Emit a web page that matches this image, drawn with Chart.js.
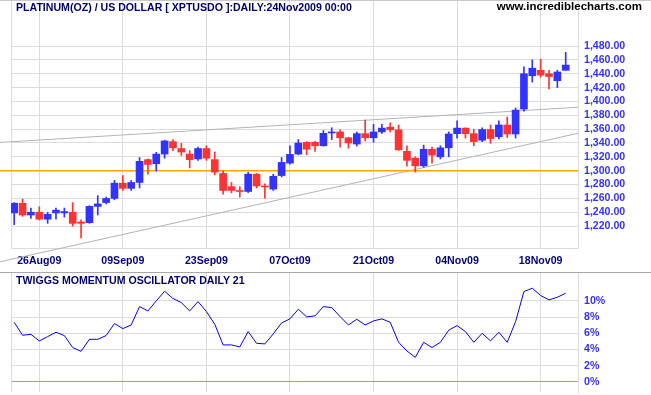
<!DOCTYPE html>
<html>
<head>
<meta charset="utf-8">
<script src="https://cdn.jsdelivr.net/npm/chart.js@4.4.1/dist/chart.umd.min.js"></script>
<style>
  body { margin: 0; background: #fff; }
  #wrap { position: relative; width: 651px; height: 395px; overflow: hidden; background: #fff; }
  canvas { position: absolute; left: 0; }
  .txt { position: absolute; font-family: 'Liberation Sans', Arial, sans-serif; font-weight: bold; line-height: 13px; white-space: nowrap; }
  .sep { position: absolute; left: 0; width: 651px; height: 1px; }
</style>
</head>
<body>
<div id="wrap">
  <canvas id="priceChart" width="651" height="270" style="top:0"></canvas>
  <canvas id="oscChart" width="651" height="123" style="top:272px"></canvas>
  <div class="sep" style="top:0;background:#c8c8c8"></div>
  <div class="sep" style="top:272px;background:#a8a8a8"></div>
  <div class="txt" style="left:16px;top:1px;font-size:10.6px;color:#000070">PLATINUM(OZ) / US DOLLAR [ XPTUSDO ]:DAILY:24Nov2009 00:00</div>
  <div class="txt" style="right:9px;top:0;font-size:11.5px;color:#000">www.incrediblecharts.com</div>
  <div class="txt" style="left:16px;top:274px;font-size:10.6px;color:#000070">TWIGGS MOMENTUM OSCILLATOR DAILY 21</div>
</div>
<script>
// --- data (daily bars 21 Aug 2009 .. 23 Nov 2009, bar index 0..66) ---
const opens  = [1239,1253,1236,1240,1230,1239,1239,1240,1226,1225,1248.5,1254,1260,1282,1274.5,1283,1316,1310,1324,1342,
                1332,1324,1317,1332,1316,1296,1277,1271,1270,1295,1277.5,1273.5,1293,1311,1324,1341,1341,1336,1354.5,1356,
                1347.5,1338.5,1353.5,1347.5,1356,1363,1359,1328,1318,1307,1331,1320,1333,1353.5,1361.5,1353.5,1344,1359.5,1349,1366,
                1353,1389,1437,1445,1440,1430,1445];
const highs  = [1254,1259,1246,1248,1240,1246,1246,1254,1229,1249.5,1264,1262,1286,1293,1286,1319,1317,1326.5,1344,1345,
                1339.5,1329,1334,1336,1327,1299.5,1283,1277,1297.5,1296,1281,1295,1319,1336,1345,1342,1342.5,1358,1362,1359,
                1348,1356,1373,1367,1367,1369,1366,1336,1320,1337,1334,1336,1356,1372,1362,1360,1362,1366,1372,1377.5,
                1390.5,1450,1460,1461,1445,1445,1471];
const lows   = [1222,1234,1231,1229,1224,1230,1233,1220,1203,1224,1236,1252,1258,1271.5,1271.5,1275,1295,1299.5,1318,1329,
                1322,1304,1315,1315,1294,1266,1268,1262,1268.5,1275,1260.5,1271.5,1291,1309.5,1323,1323,1328,1335.5,1345,1334,
                1332.5,1335.5,1343,1341,1354,1356,1329.5,1306.5,1298,1305,1311,1317,1320,1347,1347,1336,1342,1339.5,1346,1348,
                1347,1386,1428,1435,1418,1420,1445];
const closes = [1253,1236,1240,1230,1237,1243,1241,1224,1224,1248.5,1252,1260,1282,1274.5,1283,1313.5,1309,1324,1343,1333,
                1327,1316,1332,1318,1298,1271.5,1271.5,1270,1295,1278,1276.5,1292,1312,1323.5,1340,1331,1336,1354,1356,1347.5,
                1340,1353.5,1347.5,1356,1361.5,1359,1330,1315,1307,1331,1322.5,1333,1353,1361.5,1353.5,1342,1359.5,1346.5,1366,1353,
                1387.5,1440,1448,1438,1436,1442.5,1452.5];
const momentum = [7.35,5.75,5.86,5.05,5.58,6.12,5.71,4.23,3.77,5.25,5.25,5.71,7.19,6.57,7.02,9.28,8.75,9.98,11.18,10.28,
                  9.78,8.75,9.9,8.67,7.11,4.56,4.56,4.31,6.2,4.76,4.68,5.91,7.27,7.77,8.96,8.01,8.14,9.28,9.16,8.05,
                  7.02,7.72,7.02,7.52,7.77,7.35,4.88,3.81,3.03,4.88,4.23,4.88,6.37,6.94,6.2,4.88,5.99,5.05,6.12,4.88,
                  7.43,11.14,11.55,10.65,10.11,10.44,10.93];

// date ticks (bar index -> label)
const dateTickIdx = [3, 13, 23, 33, 43, 53, 63];
const dateTickLabels = ['26Aug09', '09Sep09', '23Sep09', '07Oct09', '21Oct09', '04Nov09', '18Nov09'];
const priceTicks = [1220,1240,1260,1280,1300,1320,1340,1360,1380,1400,1420,1440,1460,1480];
const oscTicks = [0, 2, 4, 6, 8, 10];

// drawn lines: [start, end] as {x: bar index, y: price}
const upperTrend = [{x: -1.7, y: 1340.8}, {x: 67.47, y: 1391.6}];
const lowerTrend = [{x: -1.7, y: 1168.5}, {x: 67.47, y: 1354}];
const supportLine = [{x: -1.7, y: 1300}, {x: 67.47, y: 1300}];

const X_MIN = -0.383, X_MAX = 67.47;
const UP = '#3333ff', DOWN = '#ff3333';
const GRID = '#dcdcdc';
const FONT = {family: "'Liberation Sans', Arial, sans-serif", weight: 'bold', size: 10.6};

const idx = opens.map((_, i) => i);
const barColors = idx.map(i => closes[i] >= opens[i] ? UP : DOWN);

// left edge of the plot box
const leftEdge = {
  id: 'leftEdge',
  beforeDatasetsDraw(chart) {
    const {ctx, chartArea} = chart;
    ctx.save();
    ctx.strokeStyle = GRID;
    ctx.lineWidth = 1;
    ctx.beginPath();
    ctx.moveTo(Math.round(chartArea.left) + 0.5, chartArea.top);
    ctx.lineTo(Math.round(chartArea.left) + 0.5, chartArea.bottom);
    ctx.stroke();
    ctx.restore();
  }
};

function noPad(ax) {
  ax.paddingTop = 0; ax.paddingBottom = 0; ax.paddingLeft = 0; ax.paddingRight = 0;
}

function xScale(showLabels) {
  return {
    type: 'linear',
    min: X_MIN,
    max: X_MAX,
    offset: false,
    afterBuildTicks: ax => { ax.ticks = dateTickIdx.map(v => ({value: v})); },
    afterFit: ax => { ax.height = showLabels ? 22 : 0; noPad(ax); },
    grid: {color: GRID, drawTicks: false, offset: false},
    border: {display: showLabels, color: GRID},
    ticks: {
      display: showLabels,
      autoSkip: false,
      maxRotation: 0,
      padding: 7,
      color: '#000080',
      font: FONT,
      callback: v => dateTickLabels[dateTickIdx.indexOf(v)]
    }
  };
}

new Chart(document.getElementById('priceChart'), {
  type: 'bar',
  data: {
    datasets: [
      {
        type: 'bar', label: 'body', order: 1, grouped: false,
        data: idx.map(i => ({x: i, y: [opens[i], closes[i]]})),
        backgroundColor: barColors, barThickness: 7, minBarLength: 1, borderWidth: 0
      },
      {
        type: 'bar', label: 'wick', order: 2, grouped: false,
        data: idx.map(i => ({x: i, y: [lows[i], highs[i]]})),
        backgroundColor: barColors, barThickness: 1, borderWidth: 0
      },
      {
        type: 'line', label: 'support', order: 3, data: supportLine, clip: false,
        borderColor: '#ffa500', borderWidth: 1.5, pointRadius: 0
      },
      {
        type: 'line', label: 'upper', order: 4, data: upperTrend, clip: false,
        borderColor: '#b4b4b4', borderWidth: 1, pointRadius: 0
      },
      {
        type: 'line', label: 'lower', order: 5, data: lowerTrend, clip: false,
        borderColor: '#b4b4b4', borderWidth: 1, pointRadius: 0
      }
    ]
  },
  options: {
    responsive: false,
    animation: false,
    devicePixelRatio: 1,
    layout: {padding: {left: 11, top: 1, right: 0, bottom: 0}},
    plugins: {legend: {display: false}, tooltip: {enabled: false}},
    scales: {
      x: xScale(true),
      y: {
        position: 'right',
        min: 1188.4,
        max: 1545,
        afterBuildTicks: ax => { ax.ticks = priceTicks.map(v => ({value: v})); },
        afterFit: ax => { ax.width = 73; noPad(ax); },
        grid: {color: GRID, drawTicks: false},
        border: {color: GRID},
        ticks: {
          padding: 6,
          color: '#3333ff',
          font: FONT,
          callback: v => v.toLocaleString('en-US', {minimumFractionDigits: 2, maximumFractionDigits: 2})
        }
      }
    }
  },
  plugins: [leftEdge]
});

new Chart(document.getElementById('oscChart'), {
  type: 'line',
  data: {
    datasets: [{
      label: 'Twiggs Momentum',
      data: idx.map(i => ({x: i, y: momentum[i]})),
      borderColor: '#0000ff',
      borderWidth: 1,
      pointRadius: 0,
      tension: 0
    }]
  },
  options: {
    responsive: false,
    animation: false,
    devicePixelRatio: 1,
    layout: {padding: {left: 11, top: 0, right: 0, bottom: 3}},
    plugins: {legend: {display: false}, tooltip: {enabled: false}},
    scales: {
      x: xScale(false),
      y: {
        position: 'right',
        min: -1.25,
        max: 13.55,
        afterBuildTicks: ax => { ax.ticks = oscTicks.map(v => ({value: v})); },
        afterFit: ax => { ax.width = 73; noPad(ax); },
        grid: {color: c => (c.tick && c.tick.value === 0) ? '#9999cc' : GRID, drawTicks: false},
        border: {color: GRID},
        ticks: {
          padding: 6,
          color: '#3333ff',
          font: FONT,
          callback: v => v + '%'
        }
      }
    }
  },
  plugins: [leftEdge]
});
</script>
</body>
</html>
